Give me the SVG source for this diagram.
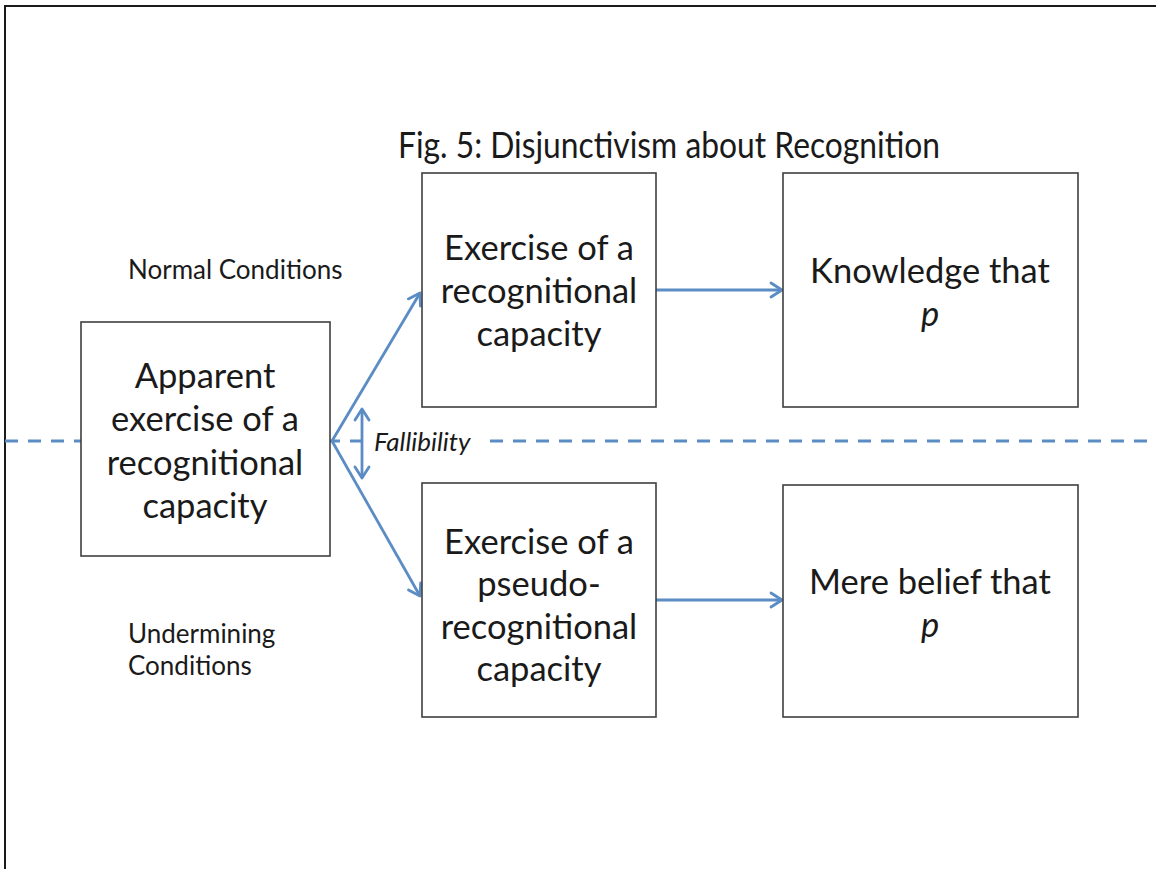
<svg xmlns="http://www.w3.org/2000/svg" width="1156" height="869" viewBox="0 0 1156 869">
  <style>
    .box { fill: #ffffff; stroke: #3f3f3f; stroke-width: 1.6; }
    .lbl { font-family: Lato, "Open Sans", "Liberation Sans", sans-serif; fill: #1a1a1a; text-anchor: middle; }
    .big { font-size: 34.5px; }
    .small { font-size: 26px; text-anchor: start; }
    .title { font-size: 36px; }
    .link { stroke: #5b8cc4; stroke-width: 2.8; fill: none; }
    .dash { stroke: #5b8cc4; stroke-width: 3; fill: none; stroke-dasharray: 13 10; }
  </style>
  <defs>
    <marker id="head" markerUnits="userSpaceOnUse" markerWidth="16" markerHeight="18" refX="13" refY="8" orient="auto-start-reverse" viewBox="0 0 16 16">
      <path d="M2,1 L13,8 L2,15" fill="none" stroke="#5b8cc4" stroke-width="2.8" stroke-linecap="round" stroke-linejoin="round"/>
    </marker>
  </defs>

  <rect width="1156" height="869" fill="#ffffff"/>
  <!-- slide frame: top and left edges -->
  <path d="M5,869 L5,6 L1156,6" fill="none" stroke="#1a1a1a" stroke-width="2"/>

  <text class="lbl title" x="669" y="158" textLength="542" lengthAdjust="spacingAndGlyphs">Fig. 5: Disjunctivism about Recognition</text>

  <!-- dividing line between the two conditions -->
  <g id="divider">
    <line class="dash" x1="5" y1="441" x2="368" y2="441"/>
    <line class="dash" x1="490" y1="441" x2="1156" y2="441"/>
  </g>

  <g id="connectors">
    <line class="link" x1="332" y1="441" x2="420" y2="293" marker-end="url(#head)"/>
    <line class="link" x1="332" y1="441" x2="420" y2="596" marker-end="url(#head)"/>
    <line class="link" x1="656" y1="290" x2="782" y2="290" marker-end="url(#head)"/>
    <line class="link" x1="656" y1="600" x2="782" y2="600" marker-end="url(#head)"/>
    <line class="link" x1="362" y1="409" x2="362" y2="478" marker-start="url(#head)" marker-end="url(#head)"/>
  </g>

  <g id="fallibility">
    <text class="lbl small" x="374" y="451" font-size="27px" font-style="italic">Fallibility</text>
  </g>

  <g id="normal-conditions">
    <text class="lbl small" x="128" y="279">Normal Conditions</text>
  </g>
  <g id="undermining-conditions">
    <text class="lbl small" x="128" y="643">Undermining</text>
    <text class="lbl small" x="128" y="675">Conditions</text>
  </g>

  <g id="apparent">
    <rect class="box" x="81" y="322" width="249" height="234"/>
    <text class="lbl big" x="205" y="388">Apparent</text>
    <text class="lbl big" x="205" y="431">exercise of a</text>
    <text class="lbl big" x="205" y="475">recognitional</text>
    <text class="lbl big" x="205" y="518">capacity</text>
  </g>

  <g id="exercise">
    <rect class="box" x="422" y="173" width="234" height="234"/>
    <text class="lbl big" x="539" y="260">Exercise of a</text>
    <text class="lbl big" x="539" y="303">recognitional</text>
    <text class="lbl big" x="539" y="346">capacity</text>
  </g>

  <g id="knowledge">
    <rect class="box" x="783" y="173" width="295" height="234"/>
    <text class="lbl big" x="930" y="283">Knowledge that</text>
    <text class="lbl big" x="930" y="326" font-style="italic">p</text>
  </g>

  <g id="pseudo-exercise">
    <rect class="box" x="422" y="483" width="234" height="234"/>
    <text class="lbl big" x="539" y="554">Exercise of a</text>
    <text class="lbl big" x="539" y="596">pseudo-</text>
    <text class="lbl big" x="539" y="639">recognitional</text>
    <text class="lbl big" x="539" y="681">capacity</text>
  </g>

  <g id="belief">
    <rect class="box" x="783" y="485" width="295" height="232"/>
    <text class="lbl big" x="930" y="594">Mere belief that</text>
    <text class="lbl big" x="930" y="637" font-style="italic">p</text>
  </g>
</svg>
